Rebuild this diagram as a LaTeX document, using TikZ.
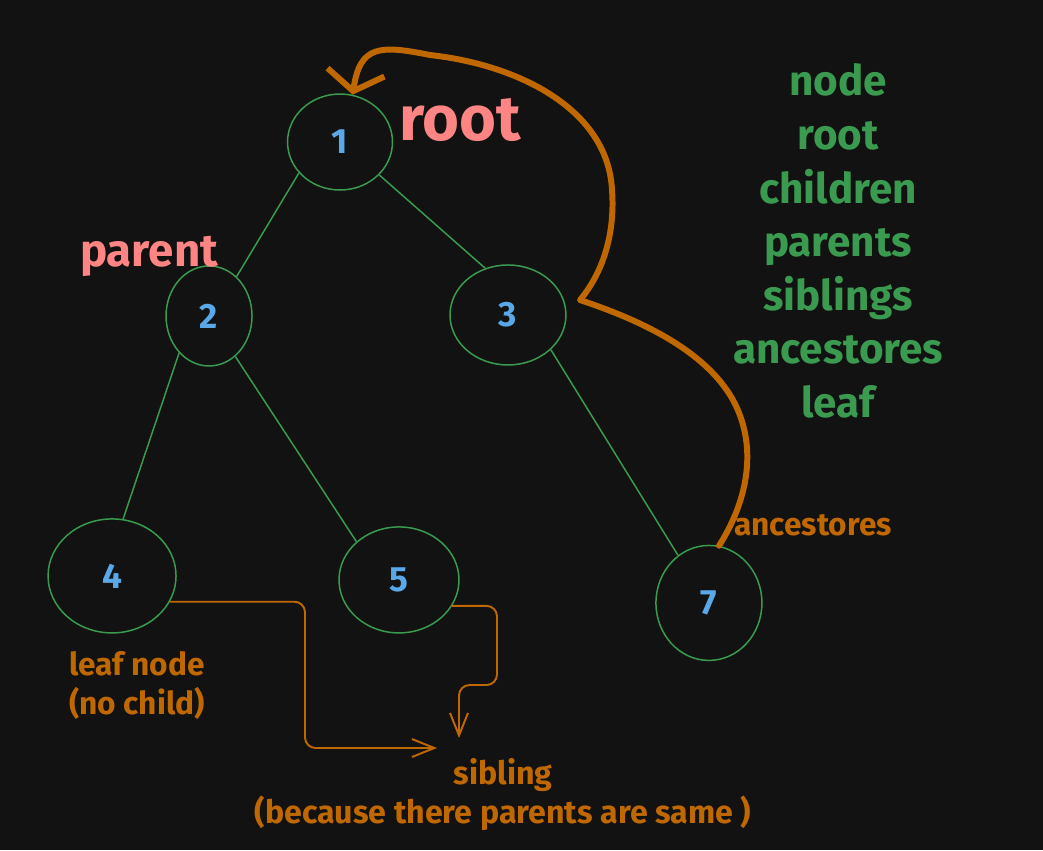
\documentclass[tikz,border=0pt]{standalone}
\usepackage{fontspec}
\setmainfont{Fira Sans}
\usetikzlibrary{shapes.geometric,arrows.meta}
\definecolor{bgdark}{HTML}{121212}
\definecolor{tgreen}{HTML}{3A9A50}
\definecolor{nblue}{HTML}{5AA8E8}
\definecolor{tpink}{HTML}{FF8484}
\definecolor{torange}{HTML}{C06800}

\begin{document}
\begin{tikzpicture}[x=0.02cm,y=-0.02cm]
\fill[bgdark] (0,0) rectangle (1043,850);
\useasboundingbox (0,0) rectangle (1043,850);

\begin{scope}[node distance=3.5cm,
  tnode/.style={ellipse,draw=tgreen,line width=0.85pt,text=nblue,inner sep=0,font=\bfseries\fontsize{20}{20}\selectfont},
  tedge/.style={draw=tgreen,line width=0.85pt},
  sarrow/.style={draw=torange,line width=1.1pt,rounded corners=6pt,-{Straight Barb[length=4.5mm,width=3.6mm]}},
  bigarrow/.style={draw=torange,line width=3.4pt,line cap=round,line join=round,-{Straight Barb[length=3.8mm,width=11.5mm]}}]
% Nodes
\node[tnode,minimum width=2.1cm,minimum height=1.92cm] (n1) at (340,142) {1};
\node[tnode,minimum width=1.72cm,minimum height=2cm,below of = n1,xshift=-2.62cm,yshift=.02cm] (n2) {2};
\node[tnode,minimum width=2.32cm,minimum height=2cm,below of = n1,xshift=3.36cm,yshift=.04cm] (n3) {3};
\node[tnode,minimum width=2.56cm,minimum height=2.28cm,below of = n2,xshift=-1.94cm,yshift=-1.7cm] (n4) {4};
\node[tnode,minimum width=2.4cm,minimum height=2.12cm,below of = n2,xshift=3.8cm,yshift=-1.78cm] (n5) {5};
\node[tnode,minimum width=2.12cm,minimum height=2.3cm,below of = n3,xshift=4.02cm,yshift=-2.26cm] (n7) {7};

% labels
\node[text=tpink,font=\bfseries\fontsize{36}{36}\selectfont,anchor=base] (rootlbl) at (460,140) {root};
\node[text=tpink,font=\bfseries\fontsize{26}{26}\selectfont,anchor=base] (parentlbl) at (149,266) {parent};
\node[text=tgreen,font=\bfseries\fontsize{24}{30.5}\selectfont,align=center] (terms) at (838,241) {node\\root\\children\\parents\\siblings\\ancestores\\leaf};
\node[text=torange,font=\bfseries\fontsize{18}{18}\selectfont,anchor=base] (anclbl) at (813,535) {ancestores};
\node[text=torange,font=\bfseries\fontsize{18}{22.5}\selectfont,align=center,anchor=north] (leaflbl) at (137,645) {leaf node\\(no child)};
\node[text=torange,font=\bfseries\fontsize{18.3}{22.3}\selectfont,align=center,anchor=north] (siblbl) at (503,752) {sibling\\(because there parents are same )};

\coordinate (c1) at (305,748);
\coordinate (t1) at (437,748);
\coordinate (c2) at (497,685);
\coordinate (t2) at (459,738);
\coordinate (c4) at (580,300);

%edges
\path[tedge] (n1.217) -- (n2.55);
\path[tedge] (n1.320) -- (n3.116);
\path[tedge] (n2.231) -- (n4.79);
\path[tedge] (n2.303) -- (n5.138);
\path[tedge] (n3.321) -- (n7.123);

%arrows
\path[sarrow] (n4.336) -| (c1) -- (t1);
\path[sarrow] (n5.334) -| (c2) -| (t2);
\path[bigarrow] (n7.80) .. controls (745,505) and (760,450) .. (733,400) .. controls (705,350) and (640,320) .. (c4)
  .. controls (605,270) and (615,230) .. (612,190) .. controls (608,110) and (520,65) .. (430,55)
  .. controls (380,45) and (360,45) .. (n1.75);

\end{scope}

\end{tikzpicture}
\end{document}
